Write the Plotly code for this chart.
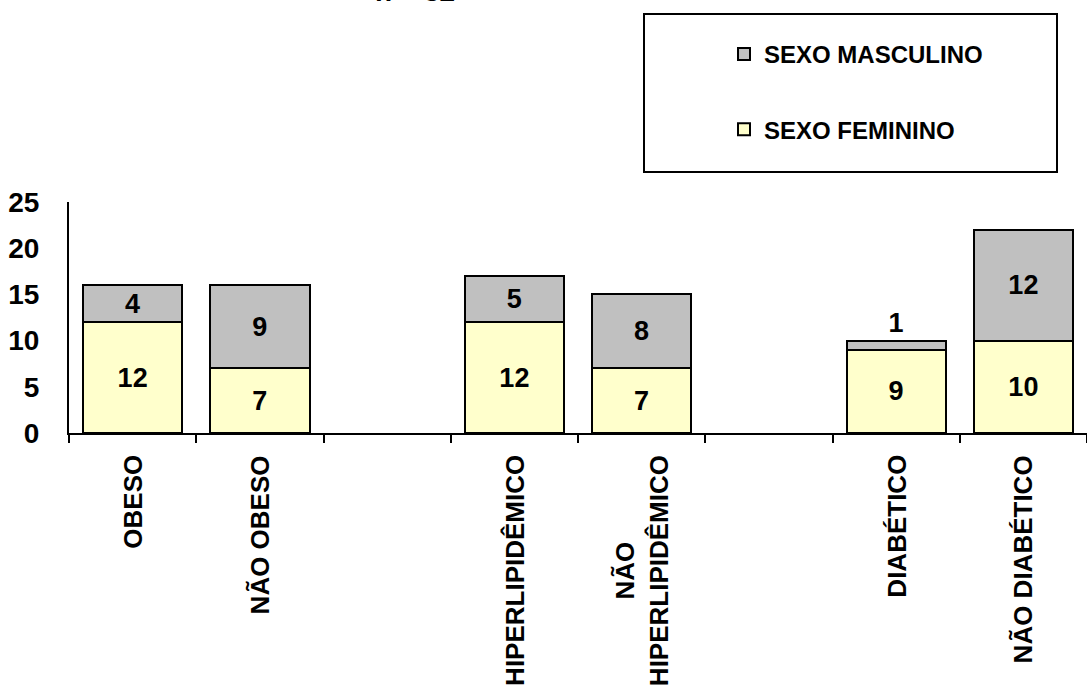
import plotly.graph_objects as go

categories = ["OBESO", "NÃO OBESO", "gap1", "HIPERLIPIDÊMICO", "NÃO HIPERLIPIDÊMICO",
              "gap2", "DIABÉTICO", "NÃO DIABÉTICO"]
tick_labels = ["OBESO", "NÃO OBESO", "", "HIPERLIPIDÊMICO", "NÃO<br>HIPERLIPIDÊMICO",
               "", "DIABÉTICO", "NÃO DIABÉTICO"]
feminino = [12, 7, None, 12, 7, None, 9, 10]
masculino = [4, 9, None, 5, 8, None, 1, 12]
title_text = "n = 32"

FONT = "Liberation Sans, Arial, sans-serif"
FEM_COLOR = "#FFFFCC"
MAS_COLOR = "#C0C0C0"

def text_of(vals):
    return ["" if v is None else str(v) for v in vals]

def pos_of(vals):
    return ["outside" if (v is not None and v < 2) else "inside" for v in vals]

fig = go.Figure()
fig.add_trace(go.Bar(
    x=categories, y=feminino, name="SEXO FEMININO",
    marker=dict(color=FEM_COLOR, line=dict(color="black", width=2)),
    text=text_of(feminino), textposition=pos_of(feminino),
    insidetextanchor="middle",
    textfont=dict(family=FONT, size=27, color="black", weight="bold"),
    outsidetextfont=dict(family=FONT, size=27, color="black", weight="bold"),
    legendgroup="f", legendrank=2, cliponaxis=False,
))
fig.add_trace(go.Bar(
    x=categories, y=masculino, name="SEXO MASCULINO",
    marker=dict(color=MAS_COLOR, line=dict(color="black", width=2)),
    text=text_of(masculino), textposition=pos_of(masculino),
    insidetextanchor="middle",
    textfont=dict(family=FONT, size=27, color="black", weight="bold"),
    outsidetextfont=dict(family=FONT, size=27, color="black", weight="bold"),
    legendgroup="m", legendrank=1, cliponaxis=False,
))

# x category labels (rotated, centered multi-line)
for cat, lab in zip(categories, tick_labels):
    if lab:
        fig.add_annotation(
            x=cat, xref="x", y=0, yref="paper", yanchor="top", xanchor="center",
            yshift=-20, text=lab, textangle=-90, showarrow=False, align="center",
            font=dict(family=FONT, size=26, color="black", weight="bold"),
        )

# title (mostly cut off at top, as in the original)
fig.add_annotation(
    x=(415 - 69) / 1018, xref="paper", y=1, yref="paper", yanchor="bottom",
    yshift=193, text=title_text, showarrow=False,
    font=dict(family=FONT, size=28, color="black", weight="bold"),
)

# legend frame
fig.add_shape(type="rect", xref="paper", yref="paper",
              x0=(644 - 69) / 1018, x1=(1057 - 69) / 1018,
              y0=(433 - 172) / 231, y1=(433 - 14) / 231,
              line=dict(color="black", width=2), fillcolor="white", layer="below")

fig.update_layout(
    width=1087, height=693,
    margin=dict(l=69, r=0, t=202, b=260),
    paper_bgcolor="white", plot_bgcolor="white",
    barmode="stack", bargap=0.22,
    uniformtext=dict(minsize=27, mode="show"),
    font=dict(family=FONT, color="black"),
    showlegend=True,
    legend=dict(
        x=(724 - 69) / 1018, xanchor="left",
        y=(433 - 32) / 231, yanchor="top",
        traceorder="grouped", tracegroupgap=41,
        font=dict(family=FONT, size=24, color="black", weight="bold"),
        bgcolor="rgba(0,0,0,0)", borderwidth=0, itemwidth=30,
    ),
    xaxis=dict(
        type="category", categoryorder="array", categoryarray=categories,
        showticklabels=False, tickson="boundaries", ticks="outside",
        ticklen=8, tickwidth=2, tickcolor="black",
        showline=True, linecolor="black", linewidth=2,
        showgrid=False, zeroline=False, fixedrange=True,
    ),
    yaxis=dict(
        range=[0, 25], dtick=5, tick0=0, showgrid=False, zeroline=False,
        showline=True, linecolor="black", linewidth=2, ticks="",
        ticklabelstandoff=22,
        tickfont=dict(family=FONT, size=28, color="black", weight="bold"),
    ),
)

fig.write_html("out.html")
